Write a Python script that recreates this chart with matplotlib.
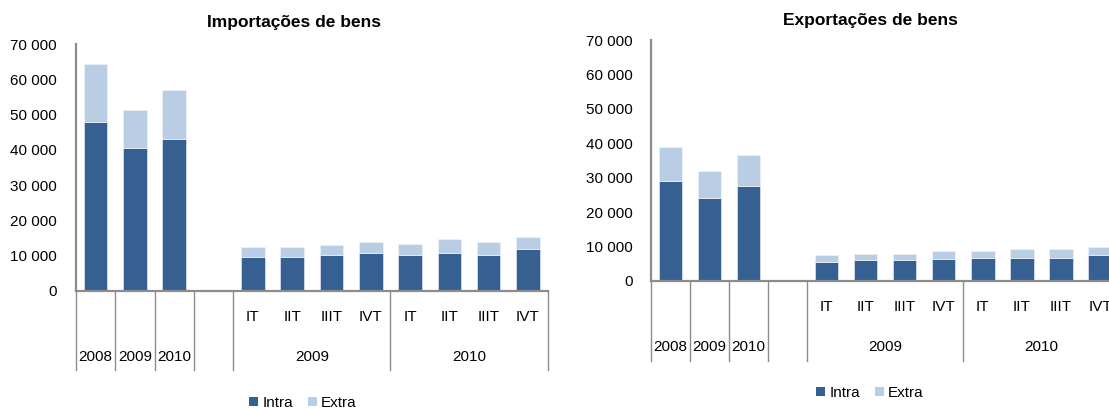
import matplotlib
matplotlib.use("Agg")
import matplotlib.pyplot as plt
from matplotlib.patches import Patch
from matplotlib.transforms import blended_transform_factory

plt.rcParams['font.family'] = ['Liberation Sans', 'DejaVu Sans']

# ---------------- data ----------------
slots = ["2008", "2009", "2010", "", "IT", "IIT", "IIIT", "IVT", "IT", "IIT", "IIIT", "IVT"]
quarter_labels = ["IT", "IIT", "IIIT", "IVT", "IT", "IIT", "IIIT", "IVT"]
annual_labels = ["2008", "2009", "2010"]
group_labels = ["2009", "2010"]

imp_intra = [48000, 40400, 43000, None, 9700, 9700, 10100, 10800, 10100, 10800, 10100, 12000]
imp_extra = [16300, 10900, 14000, None, 2700, 2700, 2900, 3000, 3300, 4000, 3700, 3200]

exp_intra = [29000, 24100, 27500, None, 5500, 6000, 6000, 6400, 6800, 6800, 6800, 7500]
exp_extra = [9900, 7900, 9200, None, 2000, 1900, 1900, 2300, 1900, 2600, 2600, 2300]

yticks = [0, 10000, 20000, 30000, 40000, 50000, 60000, 70000]
ytick_labels = ["0", "10 000", "20 000", "30 000", "40 000", "50 000", "60 000", "70 000"]

C_INTRA = "#376092"
C_EXTRA = "#B9CDE5"
C_AXIS = "#8c8c8c"
FS = 11

W, H = 1109, 408
fig = plt.figure(figsize=(W / 100, H / 100), dpi=100)


def make_panel(x0, y_zero, y_top, slot_w, intra, extra, title, title_xy,
               q_off, y_off, line_off, ypad):
    h = y_zero - y_top
    ax = fig.add_axes([x0 / W, (H - y_zero) / H, slot_w * 12 / W, h / H])
    xs = [i for i, v in enumerate(intra) if v is not None]
    iv = [intra[i] for i in xs]
    ev = [extra[i] for i in xs]
    ax.bar(xs, iv, width=0.6, color=C_INTRA, edgecolor="#dfe7f1", linewidth=0.5, zorder=2)
    ax.bar(xs, ev, width=0.6, bottom=iv, color=C_EXTRA, edgecolor="#eef2f8", linewidth=0.5, zorder=2)
    ax.set_xlim(-0.5, 11.5)
    ax.set_ylim(0, 70000)
    ax.set_yticks(yticks)
    ax.set_yticklabels(ytick_labels)
    ax.tick_params(axis='y', length=0, pad=ypad, labelsize=FS, colors="black")
    ax.set_xticks([])
    for s in ["top", "right"]:
        ax.spines[s].set_visible(False)
    for s in ["left", "bottom"]:
        ax.spines[s].set_color(C_AXIS)
        ax.spines[s].set_linewidth(1.6)
    tr = blended_transform_factory(ax.transData, ax.transAxes)
    # separator lines
    for b in [-0.5, 0.5, 1.5, 2.5, 3.5, 7.5, 11.5]:
        ax.plot([b, b], [0, -line_off / h], transform=tr, color=C_AXIS, lw=1.0,
                clip_on=False, zorder=1)
    # quarter labels
    for i, lab in enumerate(quarter_labels):
        ax.text(4 + i, -q_off / h, lab, transform=tr, ha="center", va="center", fontsize=FS)
    # annual labels
    for i, lab in enumerate(annual_labels):
        ax.text(i, -y_off / h, lab, transform=tr, ha="center", va="center", fontsize=FS)
    # group labels
    for i, lab in enumerate(group_labels):
        ax.text(5.5 + 4 * i, -y_off / h, lab, transform=tr, ha="center", va="center", fontsize=FS)
    fig.text(title_xy[0] / W, 1 - title_xy[1] / H, title, ha="center", va="center",
             fontsize=12.5, fontweight="bold")
    return ax


make_panel(76, 291, 44, 39.3, imp_intra, imp_extra, "Importações de bens", (294, 23),
           26, 66, 79, 13.7)
make_panel(650.7, 281, 40, 39.07, exp_intra, exp_extra, "Exportações de bens", (870, 20),
           26, 66, 80, 12.7)

handles = [Patch(facecolor=C_INTRA, edgecolor="none", label="Intra"),
           Patch(facecolor=C_EXTRA, edgecolor="none", label="Extra")]
for cx, cy in [(303, 403), (870, 393)]:
    fig.legend(handles=handles, loc="center", bbox_to_anchor=(cx / W, 1 - cy / H),
               ncol=2, frameon=False, fontsize=FS, handlelength=0.55, handleheight=0.55,
               handletextpad=0.3, columnspacing=1.0, borderpad=0)

fig.savefig("out.png", dpi=100)
